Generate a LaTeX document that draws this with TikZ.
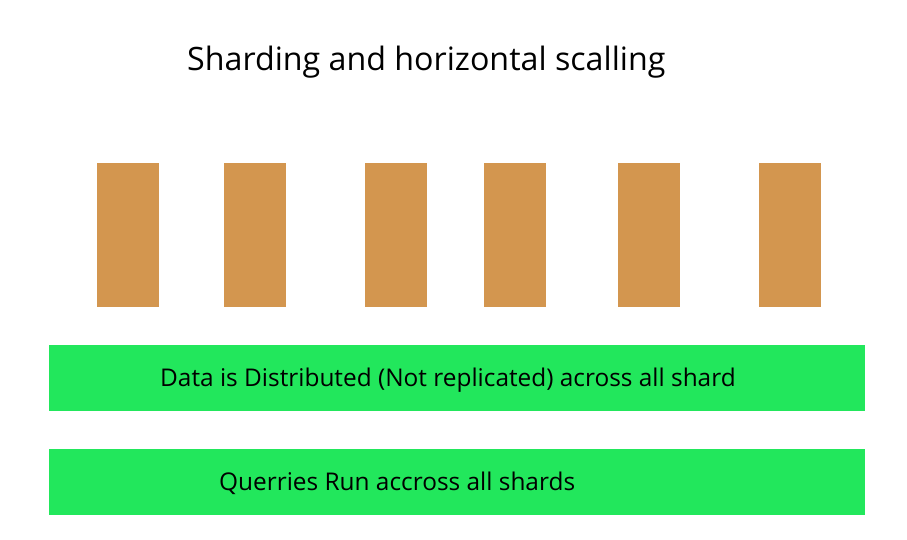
\documentclass[tikz,border=0pt]{standalone}
\usepackage{fontspec}
\setmainfont{Open Sans}
\usepackage{tikz}
\usetikzlibrary{positioning}
\definecolor{shardbrown}{RGB}{211,150,79}
\definecolor{bargreen}{RGB}{34,231,92}
\tikzset{
  shard/.style={
    rectangle,
    fill=shardbrown,
    inner sep=0pt,
    minimum width=62pt,
    minimum height=143pt
  },
  info bar/.style={
    rectangle,
    fill=bargreen,
    inner sep=0pt,
    minimum width=816pt,
    minimum height=66pt
  },
  bar text/.style={
    anchor=base west,
    inner sep=0pt,
    font=\fontsize{24.4}{28}\selectfont
  }
}
\begin{document}
\begin{tikzpicture}[x=1pt, y=-1pt]
    \useasboundingbox (0,0) rectangle (907,540);

    % titel
    \node[anchor=base west, inner sep=0pt, font=\fontsize{32.2}{38}\selectfont] (title) at (187,71) {Sharding and horizontal scalling};

    % shards
    \node[shard] (shard1) at (128,235) {};
    \node[shard] (shard2) at (255,235) {};
    \node[shard] (shard3) at (396,235) {};
    \node[shard] (shard4) at (515,235) {};
    \node[shard] (shard5) at (649,235) {};
    \node[shard] (shard6) at (790,235) {};

    % distribution bar
    \node[info bar] (distbar) at (457,378) {};
    \node[bar text] (disttext) at (160,386) {Data is Distributed (Not replicated) across all shard};

    % query bar
    \node[info bar] (querybar) at (457,482) {};
    \node[bar text] (querytext) at (219,490) {Querries Run accross all shards};

\end{tikzpicture}
\end{document}
